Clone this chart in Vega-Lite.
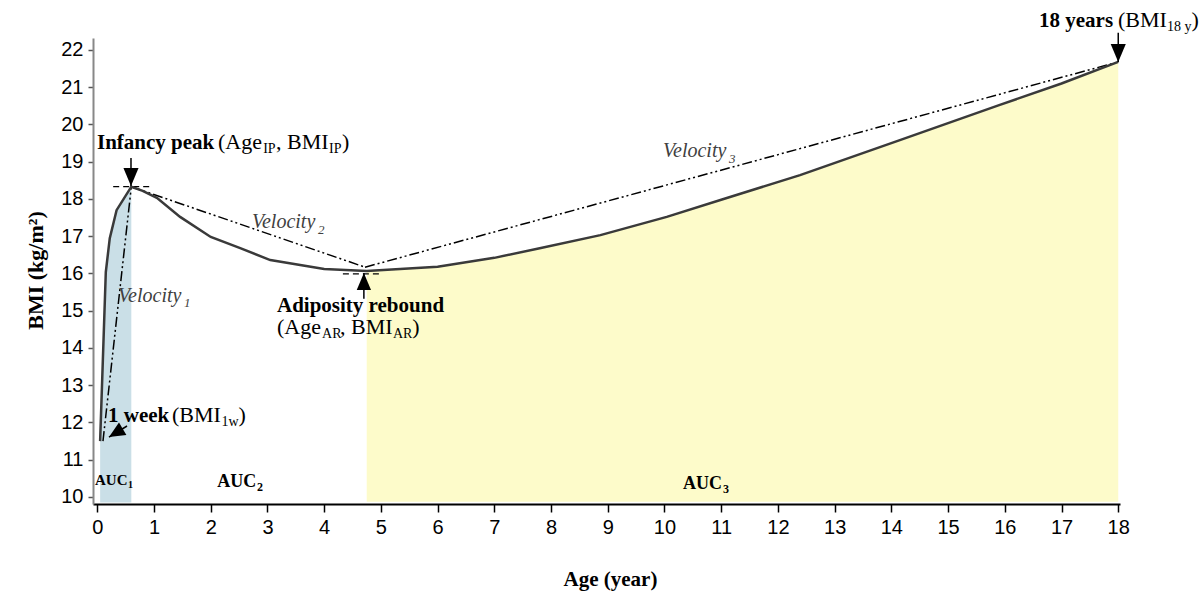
{
  "$schema": "https://vega.github.io/schema/vega-lite/v6.json",
  "autosize": {"type": "none"},
  "width": 1027,
  "height": 466,
  "padding": {"left": 93, "top": 38, "right": 80, "bottom": 96},
  "background": "white",
  "config": {"view": {"stroke": null}},
  "datasets": {
    "curve": [
      {"age": 0.05, "bmi": 11.5}, {"age": 0.15, "bmi": 16.04}, {"age": 0.22, "bmi": 16.95},
      {"age": 0.34, "bmi": 17.7}, {"age": 0.6, "bmi": 18.33}, {"age": 0.8, "bmi": 18.22},
      {"age": 1.05, "bmi": 18.03}, {"age": 1.46, "bmi": 17.52}, {"age": 2.0, "bmi": 16.98},
      {"age": 2.52, "bmi": 16.68}, {"age": 3.05, "bmi": 16.36}, {"age": 4.0, "bmi": 16.12},
      {"age": 4.75, "bmi": 16.07}, {"age": 6.0, "bmi": 16.18}, {"age": 7.0, "bmi": 16.42},
      {"age": 7.8, "bmi": 16.68}, {"age": 8.87, "bmi": 17.03}, {"age": 10.04, "bmi": 17.52},
      {"age": 11.0, "bmi": 17.98}, {"age": 12.39, "bmi": 18.64}, {"age": 14.15, "bmi": 19.58},
      {"age": 15.9, "bmi": 20.52}, {"age": 17.0, "bmi": 21.1}, {"age": 18.0, "bmi": 21.68}
    ],
    "vel": [
      {"seg": "v1", "age": 0.1, "bmi": 11.5}, {"seg": "v1", "age": 0.6, "bmi": 18.33},
      {"seg": "v2", "age": 0.6, "bmi": 18.33}, {"seg": "v2", "age": 4.72, "bmi": 16.17},
      {"seg": "v3", "age": 4.72, "bmi": 16.17}, {"seg": "v3", "age": 18.0, "bmi": 21.68}
    ],
    "flat": [
      {"age": 0.28, "age2": 0.93, "bmi": 18.33},
      {"age": 4.33, "age2": 5.0, "bmi": 15.99}
    ],
    "arrows": [
      {"name": "peak", "age": 0.594, "bmi": 18.35, "age2": 0.594, "bmi2": 19.1},
      {"name": "ar", "age": 4.7, "bmi": 16.01, "age2": 4.7, "bmi2": 15.32},
      {"name": "end", "age": 18.0, "bmi": 21.68, "age2": 18.0, "bmi2": 22.46},
      {"name": "week", "age": 0.206, "bmi": 11.61, "age2": 0.524, "bmi2": 11.906}
    ],
    "txt": [
      {"t": "Infancy peak", "age": -0.005, "bmi": 19.342, "kind": "bold"},
      {"t": "Adiposity rebound", "age": 3.168, "bmi": 14.96, "kind": "bold"},
      {"t": "1 week", "age": 0.189, "bmi": 12.013, "kind": "bold"},
      {"t": "18 years", "age": 16.603, "bmi": 22.617, "kind": "bold"},
      {"t": "(Age", "age": 2.128, "bmi": 19.342, "kind": "reg"},
      {"t": ", BMI", "age": 3.151, "bmi": 19.342, "kind": "reg"},
      {"t": ")", "age": 4.314, "bmi": 19.342, "kind": "reg"},
      {"t": "(Age", "age": 3.168, "bmi": 14.37, "kind": "reg"},
      {"t": ", BMI", "age": 4.279, "bmi": 14.37, "kind": "reg"},
      {"t": ")", "age": 5.555, "bmi": 14.37, "kind": "reg"},
      {"t": "(BMI", "age": 1.317, "bmi": 12.013, "kind": "reg"},
      {"t": ")", "age": 2.49, "bmi": 12.013, "kind": "reg"},
      {"t": "(BMI", "age": 17.996, "bmi": 22.617, "kind": "reg"},
      {"t": ")", "age": 19.29, "bmi": 22.617, "kind": "reg"},
      {"t": "IP", "age": 2.925, "bmi": 19.235, "kind": "sub"},
      {"t": "IP", "age": 4.085, "bmi": 19.235, "kind": "sub"},
      {"t": "AR", "age": 3.962, "bmi": 14.262, "kind": "sub"},
      {"t": "AR", "age": 5.213, "bmi": 14.262, "kind": "sub"},
      {"t": "1w", "age": 2.19, "bmi": 11.906, "kind": "sub"},
      {"t": "18 y", "age": 18.86, "bmi": 22.51, "kind": "sub"},
      {"t": "Velocity", "age": 0.367, "bmi": 15.235, "kind": "ital"},
      {"t": "Velocity", "age": 2.727, "bmi": 17.221, "kind": "ital"},
      {"t": "Velocity", "age": 9.974, "bmi": 19.128, "kind": "ital"},
      {"t": "1", "age": 1.529, "bmi": 15.101, "kind": "italsub"},
      {"t": "2", "age": 3.893, "bmi": 17.06, "kind": "italsub"},
      {"t": "3", "age": 11.137, "bmi": 18.966, "kind": "italsub"},
      {"t": "AUC", "age": 2.114, "bmi": 10.268, "kind": "auc"},
      {"t": "AUC", "age": 10.326, "bmi": 10.215, "kind": "auc"},
      {"t": "2", "age": 2.816, "bmi": 10.161, "kind": "aucsub"},
      {"t": "3", "age": 11.031, "bmi": 10.107, "kind": "aucsub"},
      {"t": "AUC", "age": -0.041, "bmi": 10.322, "kind": "aucs"},
      {"t": "1", "age": 0.541, "bmi": 10.242, "kind": "aucssub"}
    ]
  },
  "encoding": {
    "x": {
      "field": "age", "type": "quantitative",
      "scale": {"domain": [-0.0758, 18.031], "nice": false, "zero": false},
      "axis": {
        "values": [0,1,2,3,4,5,6,7,8,9,10,11,12,13,14,15,16,17,18],
        "zindex": 1,
        "grid": false, "tickSize": 8, "tickColor": "#000000", "tickWidth": 1.5,
        "domainColor": "#000000", "domainWidth": 2,
        "labelFont": "Liberation Sans", "labelFontSize": 20, "labelColor": "#000000",
        "labelPadding": 5, "labelFlush": false, "labelOverlap": false, "labelBound": false,
        "title": "Age (year)", "titleFont": "Liberation Serif", "titleFontWeight": "bold",
        "titleFontSize": 21, "titleColor": "#000000", "titleX": 517, "titleY": 81,
        "titleBaseline": "alphabetic", "titleAlign": "center"
      }
    },
    "y": {
      "field": "bmi", "type": "quantitative",
      "scale": {"domain": [9.812, 22.322], "nice": false, "zero": false},
      "axis": {
        "values": [10,11,12,13,14,15,16,17,18,19,20,21,22],
        "zindex": 1,
        "grid": false, "tickSize": 5, "tickColor": "#555555", "tickWidth": 1.5,
        "domainColor": "#888888", "domainWidth": 2,
        "labelFont": "Liberation Sans", "labelFontSize": 20, "labelColor": "#000000",
        "labelPadding": 5, "labelFlush": false, "labelOverlap": false, "labelBound": false,
        "title": "BMI (kg/m²)", "titleFont": "Liberation Serif", "titleFontWeight": "bold",
        "titleFontSize": 22, "titleColor": "#000000", "titleAngle": 270,
        "titleX": -51, "titleY": 232, "titleAlign": "center", "titleBaseline": "alphabetic"
      }
    }
  },
  "layer": [
    {
      "data": {"name": "curve"},
      "transform": [{"filter": "datum.age <= 0.61"}],
      "mark": {"type": "area", "color": "#cadfe7", "opacity": 1},
      "encoding": {"y2": {"datum": 9.85}}
    },
    {
      "data": {"name": "curve"},
      "transform": [{"filter": "datum.age >= 4.74"}],
      "mark": {"type": "area", "color": "#fdfbca", "opacity": 1},
      "encoding": {"y2": {"datum": 9.87}}
    },
    {
      "data": {"name": "flat"},
      "mark": {"type": "rule", "color": "#000000", "strokeWidth": 1.3, "strokeDash": [6, 4]},
      "encoding": {"x2": {"field": "age2"}}
    },
    {
      "data": {"name": "vel"},
      "mark": {"type": "line", "color": "#000000", "strokeWidth": 1.5, "strokeDash": [10, 3, 2, 3, 2, 3]},
      "encoding": {"detail": {"field": "seg"}}
    },
    {
      "data": {"name": "curve"},
      "mark": {"type": "line", "color": "#3a3a3a", "strokeWidth": 2.5},
      "encoding": {}
    },
    {
      "data": {"name": "arrows"},
      "mark": {"type": "rule", "color": "#000000", "strokeWidth": 1.5},
      "encoding": {"x2": {"field": "age2"}, "y2": {"field": "bmi2"}}
    },
    {
      "data": {"name": "arrows"},
      "transform": [{"filter": "datum.name === 'peak' || datum.name === 'end'"}],
      "mark": {"type": "point", "shape": "M-0.42,-1L0.42,-1L0,0Z", "filled": true, "color": "#000000", "opacity": 1, "size": 1296, "strokeWidth": 0}
    },
    {
      "data": {"name": "arrows"},
      "transform": [{"filter": "datum.name === 'ar'"}],
      "mark": {"type": "point", "shape": "M-0.42,-1L0.42,-1L0,0Z", "filled": true, "color": "#000000", "opacity": 1, "size": 1156, "angle": 180, "strokeWidth": 0}
    },
    {
      "data": {"name": "arrows"},
      "transform": [{"filter": "datum.name === 'week'"}],
      "mark": {"type": "point", "shape": "M-0.45,-1L0.45,-1L0,0Z", "filled": true, "color": "#000000", "opacity": 1, "size": 1024, "angle": 59, "strokeWidth": 0}
    },
    {
      "data": {"name": "txt"},
      "transform": [{"filter": "datum.kind === 'bold'"}],
      "mark": {"type": "text", "align": "left", "baseline": "alphabetic", "font": "Liberation Serif", "fontSize": 21, "fontWeight": "bold", "color": "#000000"},
      "encoding": {"text": {"field": "t"}}
    },
    {
      "data": {"name": "txt"},
      "transform": [{"filter": "datum.kind === 'reg'"}],
      "mark": {"type": "text", "align": "left", "baseline": "alphabetic", "font": "Liberation Serif", "fontSize": 22, "color": "#000000"},
      "encoding": {"text": {"field": "t"}}
    },
    {
      "data": {"name": "txt"},
      "transform": [{"filter": "datum.kind === 'sub'"}],
      "mark": {"type": "text", "align": "left", "baseline": "alphabetic", "font": "Liberation Serif", "fontSize": 14, "color": "#000000"},
      "encoding": {"text": {"field": "t"}}
    },
    {
      "data": {"name": "txt"},
      "transform": [{"filter": "datum.kind === 'ital'"}],
      "mark": {"type": "text", "align": "left", "baseline": "alphabetic", "font": "Liberation Serif", "fontSize": 20, "fontStyle": "italic", "color": "#404040"},
      "encoding": {"text": {"field": "t"}}
    },
    {
      "data": {"name": "txt"},
      "transform": [{"filter": "datum.kind === 'italsub'"}],
      "mark": {"type": "text", "align": "left", "baseline": "alphabetic", "font": "Liberation Serif", "fontSize": 13, "fontStyle": "italic", "color": "#404040"},
      "encoding": {"text": {"field": "t"}}
    },
    {
      "data": {"name": "txt"},
      "transform": [{"filter": "datum.kind === 'auc'"}],
      "mark": {"type": "text", "align": "left", "baseline": "alphabetic", "font": "Liberation Serif", "fontSize": 18, "fontWeight": "bold", "color": "#000000"},
      "encoding": {"text": {"field": "t"}}
    },
    {
      "data": {"name": "txt"},
      "transform": [{"filter": "datum.kind === 'aucsub'"}],
      "mark": {"type": "text", "align": "left", "baseline": "alphabetic", "font": "Liberation Serif", "fontSize": 12, "fontWeight": "bold", "color": "#000000"},
      "encoding": {"text": {"field": "t"}}
    },
    {
      "data": {"name": "txt"},
      "transform": [{"filter": "datum.kind === 'aucs'"}],
      "mark": {"type": "text", "align": "left", "baseline": "alphabetic", "font": "Liberation Serif", "fontSize": 15, "fontWeight": "bold", "color": "#000000"},
      "encoding": {"text": {"field": "t"}}
    },
    {
      "data": {"name": "txt"},
      "transform": [{"filter": "datum.kind === 'aucssub'"}],
      "mark": {"type": "text", "align": "left", "baseline": "alphabetic", "font": "Liberation Serif", "fontSize": 10, "fontWeight": "bold", "color": "#000000"},
      "encoding": {"text": {"field": "t"}}
    }
  ]
}
